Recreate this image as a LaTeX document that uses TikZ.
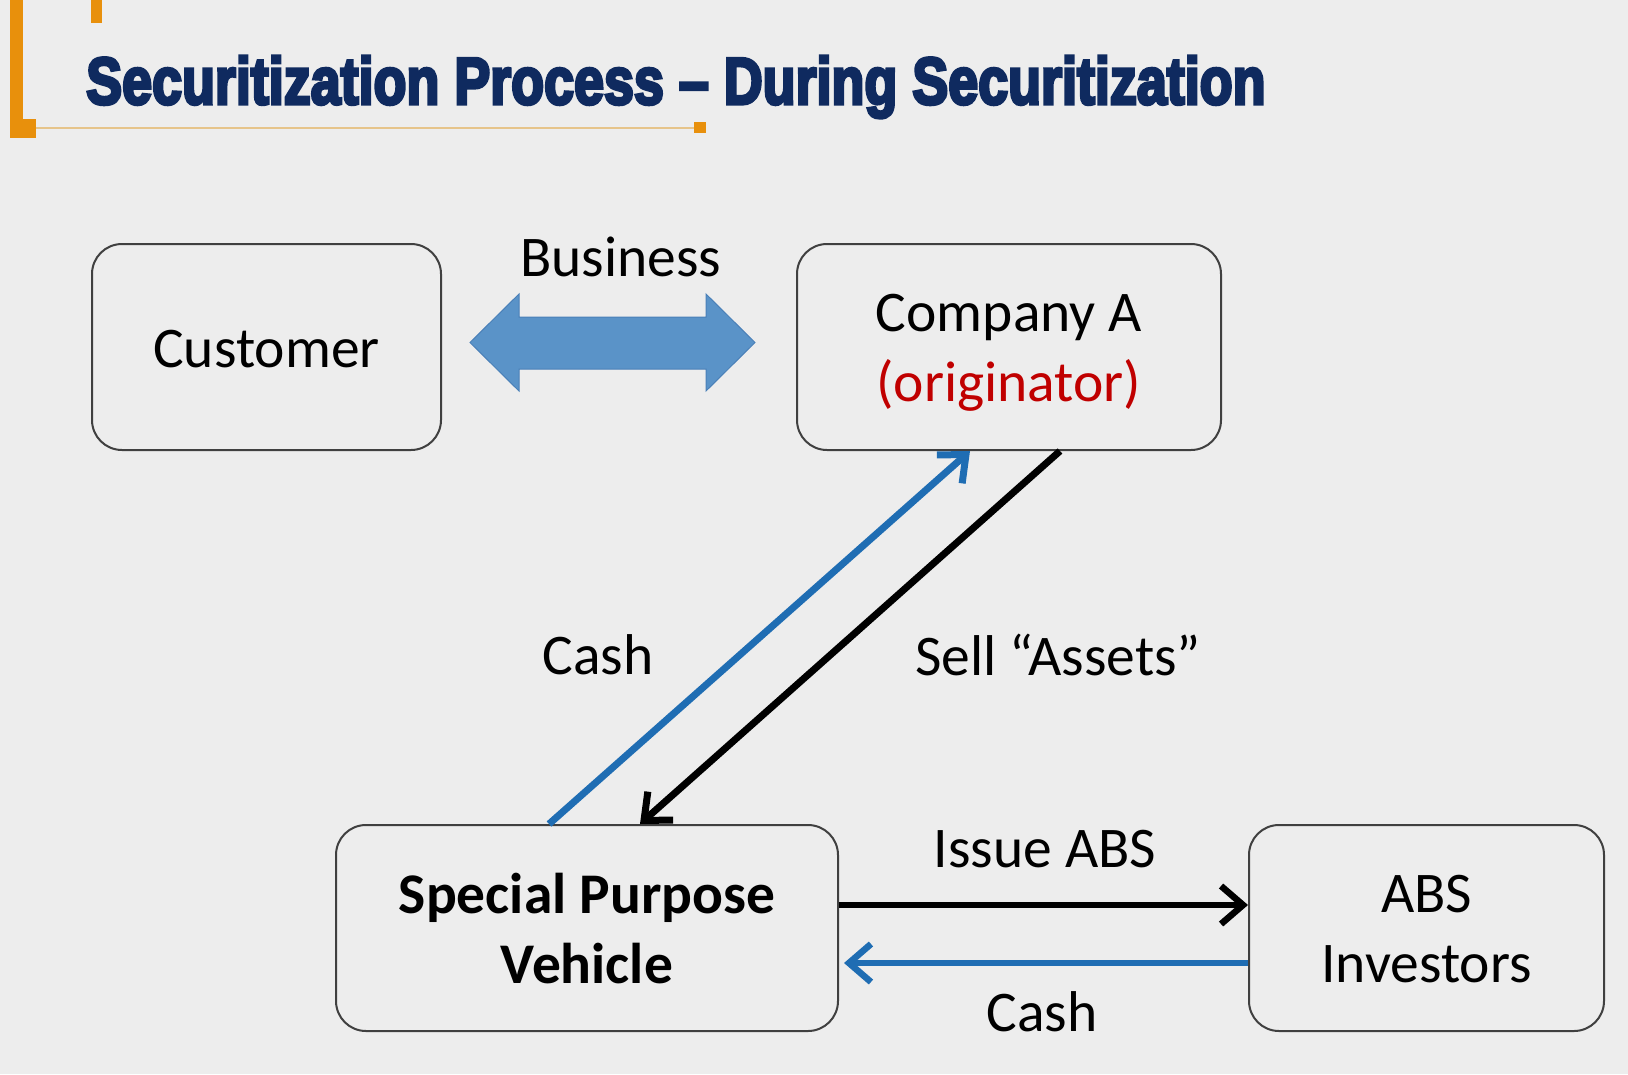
\documentclass[tikz,border=0pt]{standalone}
\usepackage{fontspec}
\setmainfont{Carlito}
\newfontfamily\titlefont{Liberation Sans}[BoldFeatures={FakeBold=5}]
\usetikzlibrary{arrows.meta,calc}
\definecolor{bg}{HTML}{EDEDED}
\definecolor{navy}{HTML}{0F2A5F}
\definecolor{gold}{HTML}{E8900C}
\definecolor{paletan}{HTML}{E6C48A}
\definecolor{flowblue}{HTML}{1F6DB3}
\definecolor{bigblue}{HTML}{5A93C8}
\definecolor{bigblueedge}{HTML}{4A80B8}
\definecolor{origred}{HTML}{C00000}
\definecolor{boxline}{HTML}{404040}
% centred lines, lowered by #1 while keeping the nominal box size
\newcommand{\stack}[2][0pt]{\raisebox{-#1}[\height][\depth]{\begin{tabular}{@{}c@{}}#2\end{tabular}}}

\begin{document}
\begin{tikzpicture}[x=1pt,y=-1pt,
  party/.style={draw=boxline, line width=2pt, rounded corners=30pt,
    minimum height=206pt, align=center, inner sep=0pt,
    font=\fontsize{57.5}{70}\selectfont},
  lbl/.style={inner sep=0pt, font=\fontsize{57.5}{70}\selectfont},
  flow/.style={line width=6.5pt,
    -{Straight Barb[length=22pt,width=38pt]}},
]
% page and background
\useasboundingbox (0,0) rectangle (1628,1074);
\fill[bg] (0,0) rectangle (1628,1074);

% title bracket ornaments
\fill[gold] (10,0) rectangle (23,138);
\fill[gold] (10,119) rectangle (36,138);
\fill[gold] (91,0) rectangle (102,23);
\draw[paletan, line width=2.5pt] (36,128) -- (696,128);
\fill[gold] (694,122) rectangle (706,133);

% title
\node[anchor=base west, inner sep=0pt] (title) at (86,104)
  {\resizebox{1179pt}{48pt}{\titlefont\bfseries\color{navy}Securitization Process – During Securitization}};

% parties
\node[party, minimum width=349pt] (cust) at (266.5,347) {\stack[6pt]{Customer}};
\node[party, minimum width=424pt] (comp) at (1009,347)
  {\stack[5pt]{Company A\\\textcolor{origred}{(originator)}}};
\node[party, minimum width=502pt, font=\fontsize{57.5}{70}\selectfont\bfseries]
  (spv) at (587,928) {\stack[6pt]{Special Purpose\\Vehicle}};
\node[party, minimum width=355pt] (abs) at (1426.5,928) {\stack[5.5pt]{ABS\\Investors}};

% business relationship (block double arrow)
\filldraw[fill=bigblue, draw=bigblueedge, line width=1pt]
  (470,342.5) -- (519,294) -- (519,317) -- (706,317) -- (706,294)
  -- (755,342.5) -- (706,391) -- (706,369) -- (519,369) -- (519,391) -- cycle;
\node[lbl] (business) at (621,257) {Business};

% asset sale and cash between originator and SPV
\draw[flow, flowblue, line width=7pt]
  ($(spv.north west)+(214,0)$) -- ($(comp.south west)+(174,0)$);
\draw[flow, black, line width=7pt]
  ($(comp.south west)+(264,0)$) -- ($(spv.north west)+(305,0)$);
\node[lbl] (cashup) at (598,655) {Cash};
\node[lbl] (sell) at (1058,655) {Sell “Assets”};

% ABS issue and investor cash
\draw[flow, black] ($(spv.east)+(0,-23)$) -- ($(abs.west)+(0,-23)$);
\draw[flow, flowblue] ($(abs.west)+(0,35)$) -- ($(spv.east)+(5,35)$);
\node[lbl] (issue) at (1045,849) {Issue ABS};
\node[lbl] (cashdown) at (1042,1012) {Cash};
\end{tikzpicture}
\end{document}
